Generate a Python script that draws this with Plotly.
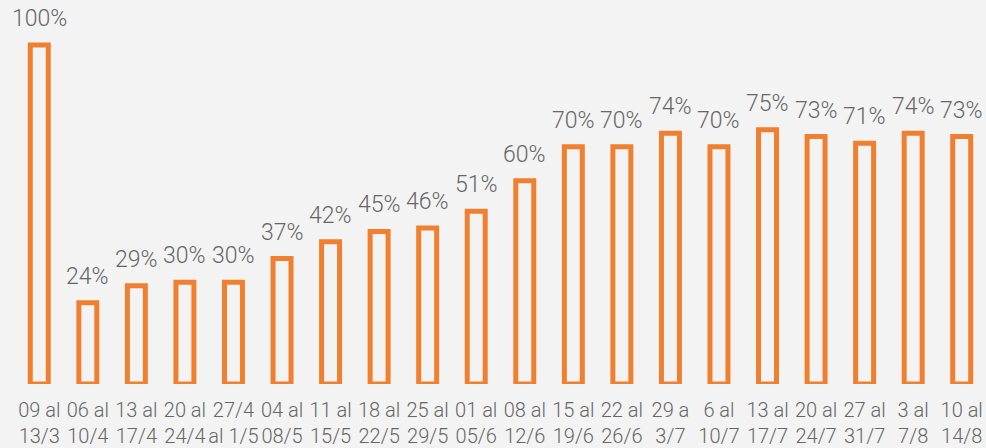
import plotly.graph_objects as go

categories = ["09 al<br>13/3", "06 al<br>10/4", "13 al<br>17/4", "20 al<br>24/4", "27/4<br>al 1/5",
              "04 al<br>08/5", "11 al<br>15/5", "18 al<br>22/5", "25 al<br>29/5", "01 al<br>05/6",
              "08 al<br>12/6", "15 al<br>19/6", "22 al<br>26/6", "29 a<br>3/7", "6 al<br>10/7",
              "13 al<br>17/7", "20 al<br>24/7", "27 al<br>31/7", "3 al<br>7/8", "10 al<br>14/8"]
values = [100, 24, 29, 30, 30, 37, 42, 45, 46, 51, 60, 70, 70, 74, 70, 75, 73, 71, 74, 73]
labels = [f"{v}%" for v in values]

ORANGE = "#F0802F"
GRAY = "#666666"
BG = "#f3f3f3"
FONT = "Roboto"

fig = go.Figure()
fig.add_trace(go.Bar(
    x=categories, y=values,
    width=0.37,
    marker=dict(color="rgba(0,0,0,0)", line=dict(color=ORANGE, width=5)),
    hoverinfo="skip",
))

for c, v, t in zip(categories, values, labels):
    fig.add_annotation(x=c, y=v, text=t, showarrow=False, yanchor="bottom",
                       yshift=11, font=dict(family=FONT, size=23, color=GRAY, weight=300))

fig.update_layout(
    width=986, height=448,
    margin=dict(l=15, r=0, t=0, b=64),
    paper_bgcolor=BG, plot_bgcolor=BG,
    showlegend=False,
    xaxis=dict(showgrid=False, zeroline=False, showline=False, ticks="",
               tickfont=dict(family=FONT, size=20, color=GRAY, weight=300),
               range=[-0.5, 19.5], ticklabelstandoff=12),
    yaxis=dict(visible=False, range=[0, 113.3]),
)

fig.write_html("out.html", config={"displayModeBar": False},
               post_script="document.body.style.margin='0';document.body.style.overflow='hidden';")
